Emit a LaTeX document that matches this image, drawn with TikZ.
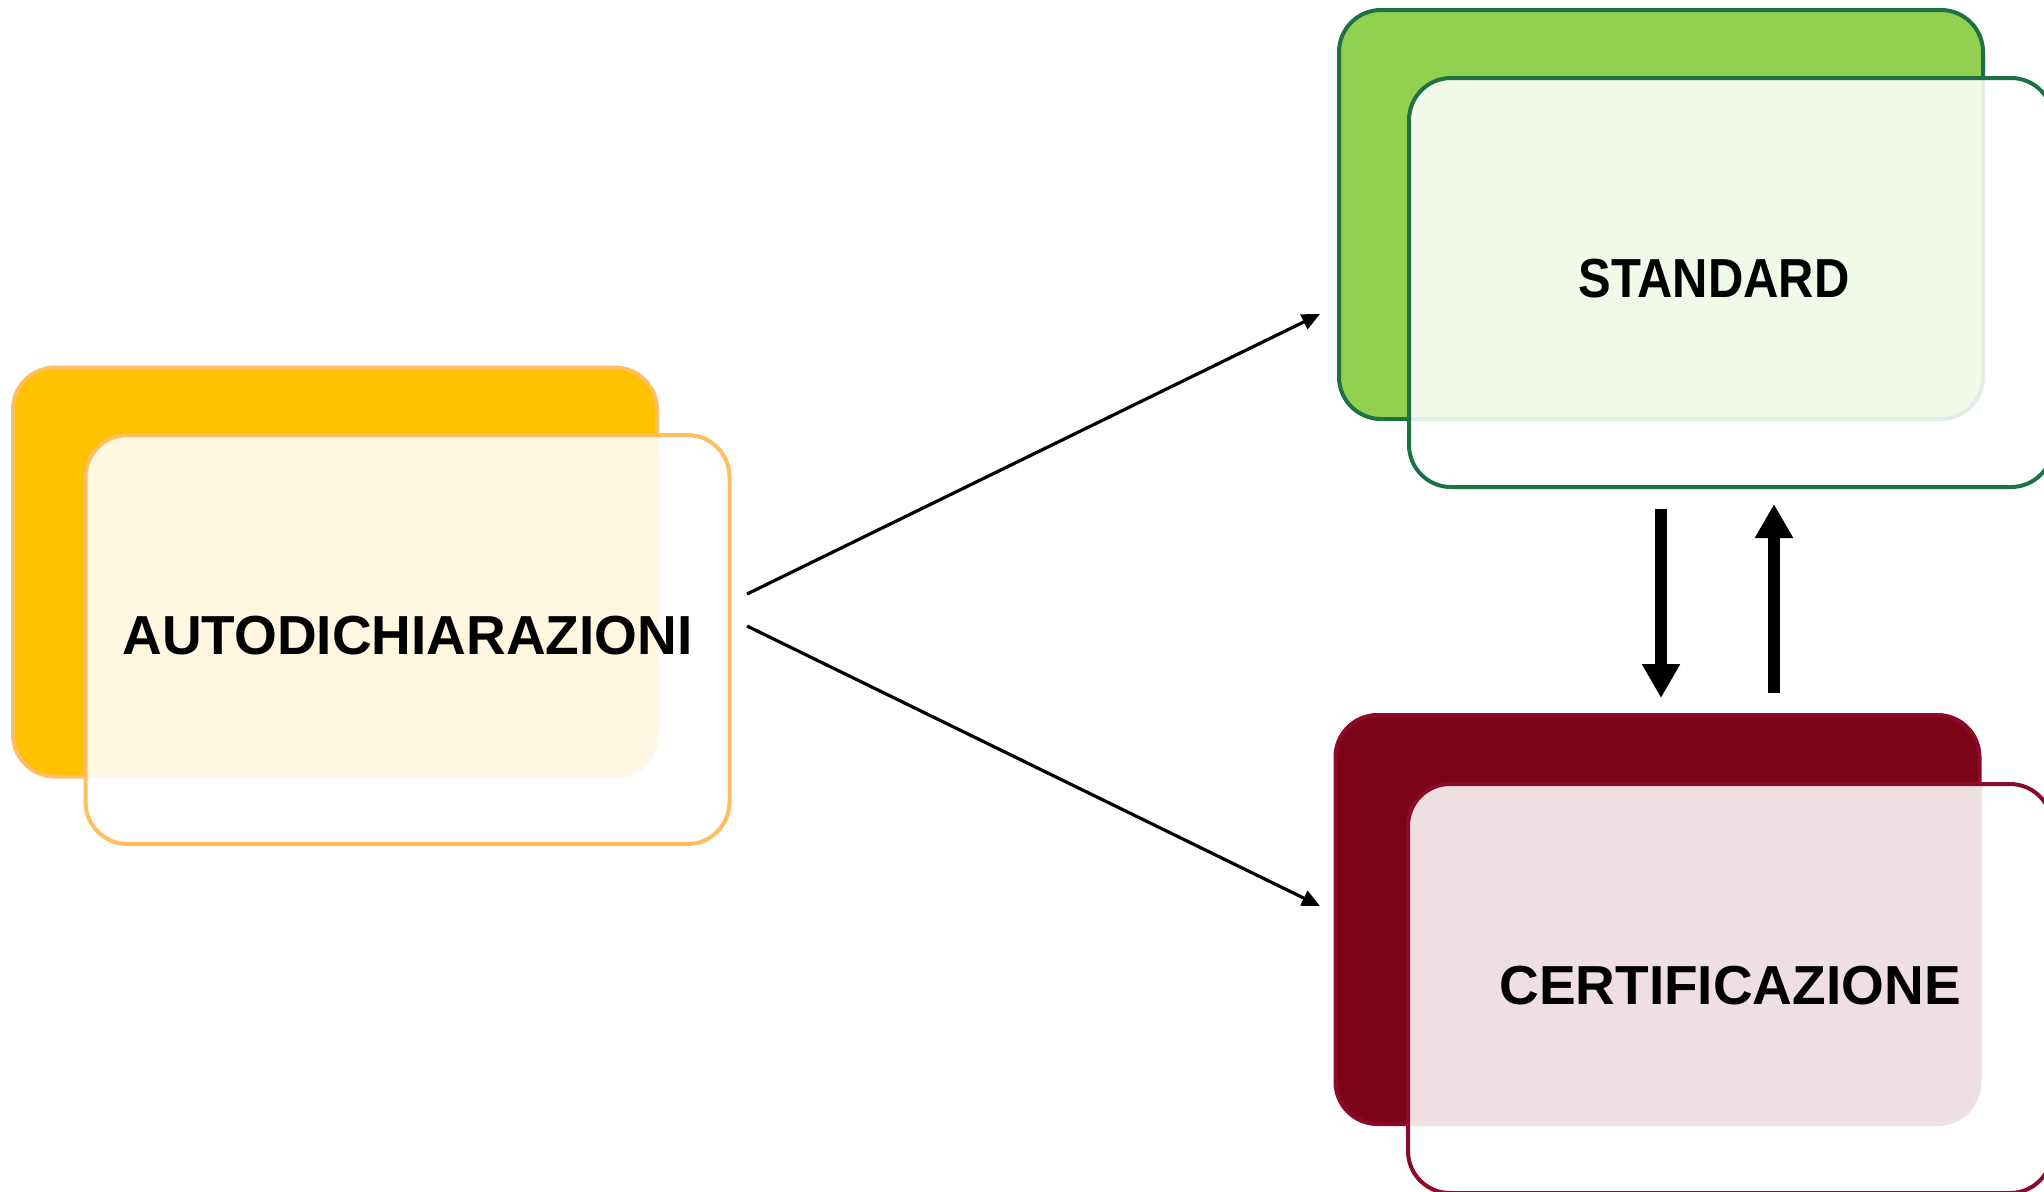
\documentclass[tikz,border=0pt]{standalone}
\usepackage{fontspec}
\setmainfont{Liberation Sans}
\usetikzlibrary{arrows.meta}

\definecolor{ambra}{HTML}{FFC000}
\definecolor{ambraline}{HTML}{FFBF60}
\definecolor{prato}{HTML}{92D050}
\definecolor{pratoline}{HTML}{1E7145}
\definecolor{bordeaux}{HTML}{7B0516}
\definecolor{bordeauxline}{HTML}{8B0A2A}

\begin{document}
\begin{tikzpicture}[x=0.5pt, y=-0.5pt,
		backbox/.style={draw, line width=2pt, rounded corners=21pt, minimum width=322pt, minimum height=204.5pt, inner sep=0pt, outer sep=0pt},
		frontbox/.style={backbox, fill=white, fill opacity=0.88},
		boxtext/.style={font=\bfseries\fontsize{27.5}{33}\selectfont},
		link/.style={line width=1.6pt, -{Triangle[length=9pt, width=8pt]}},
		bigarrow/.style={line width=6pt, -{Triangle[length=17pt, width=18pt]}}]
		\clip (0, 0) rectangle (2044, 1191);

		\node[backbox, draw=ambraline, fill=ambra] (yback) at (335, 572) {};
		\node[frontbox, draw=ambraline] (yfront) at (407.5, 639.5) {};

		\node[backbox, draw=pratoline, fill=prato] (gback) at (1661, 214.5) {};
		\node[frontbox, draw=pratoline] (gfront) at (1731, 282.5) {};

		\node[backbox, draw=bordeauxline, fill=bordeaux] (rback) at (1657.5, 919.5) {};
		\node[frontbox, draw=bordeauxline] (rfront) at (1730, 988.5) {};

		\node[boxtext] (autotxt) at ([yshift=2pt]yfront.center) {AUTODICHIARAZIONI};
		\node[boxtext] (stdtxt) at ([xshift=-8.5pt, yshift=2pt]gfront.center) {\scalebox{0.89}[1]{STANDARD}};
		\node[boxtext] (certtxt) at ([yshift=1.5pt]rfront.center) {CERTIFICAZIONE};

		\coordinate (up1) at (747, 594);
		\coordinate (up2) at (1320, 314);
		\coordinate (dn1) at (747, 626);
		\coordinate (dn2) at (1320, 906);
		\draw[link] (up1) -- (up2);
		\draw[link] (dn1) -- (dn2);

		\coordinate (a1) at (1661, 509);
		\coordinate (a2) at (1661, 698);
		\coordinate (b1) at (1774, 693);
		\coordinate (b2) at (1774, 504);
		\draw[bigarrow] (a1) -- (a2);
		\draw[bigarrow] (b1) -- (b2);
	\end{tikzpicture}
\end{document}
